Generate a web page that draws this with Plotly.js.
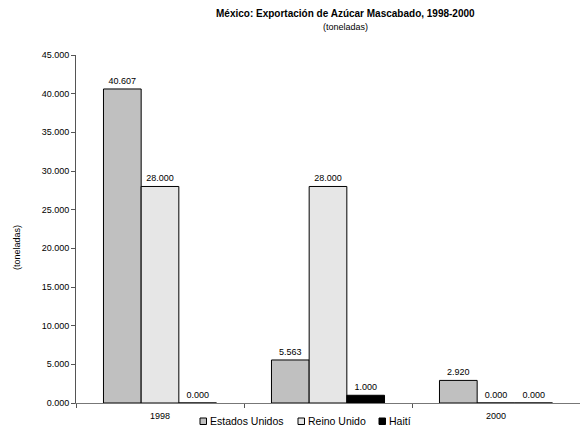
<!DOCTYPE html>
<html>
<head>
<meta charset="utf-8">
<script src="https://cdn.plot.ly/plotly-3.0.1.min.js"></script>
<style>html,body{margin:0;padding:0;background:#fff;}#chart{width:580px;height:431px;}</style>
</head>
<body>
<div id="chart"></div>
<script>
var categories = ["1998", "1999", "2000"];
var tickLabels = ["1998", "", "2000"];
var seriesNames = ["Estados Unidos", "Reino Unido", "Haití"];
var estadosUnidos = [40.607, 5.563, 2.920];
var reinoUnido = [28.000, 28.000, 0.000];
var haiti = [0.000, 1.000, 0.000];
var yTicks = [0, 5, 10, 15, 20, 25, 30, 35, 40, 45];

var seriesValues = [estadosUnidos, reinoUnido, haiti];
var colors = ["#C0C0C0", "#E6E6E6", "#000000"];

var W = 580, H = 431, L = 76, R = 0, T = 55, B = 28;
var pw = W - L - R, ph = H - T - B;
function px(x) { return (x - L) / pw; }
function py(y) { return (H - B - y) / ph; }

var font = "Liberation Sans, Arial, sans-serif";
var traces = seriesValues.map(function (vals, i) {
  return {
    type: "bar",
    name: seriesNames[i],
    x: categories,
    y: vals,
    marker: {color: colors[i], line: {color: "#000", width: 1}},
    text: vals.map(function (v) { return v.toFixed(3); }),
    textposition: "outside",
    cliponaxis: false,
    textfont: {family: font, size: 9, color: "#000"},
    hoverinfo: "skip"
  };
});

// legend drawn below the axis (Excel style)
var legendX = [200, 298, 379];
var shapes = [], annotations = [];
seriesNames.forEach(function (n, i) {
  shapes.push({type: "rect", xref: "paper", yref: "paper",
    x0: px(legendX[i]), x1: px(legendX[i] + 6.5), y0: py(424.5), y1: py(418),
    fillcolor: colors[i], line: {color: "#000", width: 1}});
  annotations.push({text: n, xref: "paper", yref: "paper",
    x: px(legendX[i] + 7.5), y: py(421), xanchor: "left", yanchor: "middle", showarrow: false,
    font: {family: font, size: 10.5, color: "#000"}});
});

annotations.push(
  {text: "<b>México: Exportación de Azúcar Mascabado, 1998-2000</b>", xref: "paper", yref: "paper",
   x: px(345), y: py(13), xanchor: "center", yanchor: "middle", showarrow: false,
   font: {family: font, size: 10, color: "#000"}},
  {text: "(toneladas)", xref: "paper", yref: "paper",
   x: px(345), y: py(27), xanchor: "center", yanchor: "middle", showarrow: false,
   font: {family: font, size: 9, color: "#000"}},
  {text: "(toneladas)", xref: "paper", yref: "paper", textangle: -90,
   x: px(17), y: py(248), xanchor: "center", yanchor: "middle", showarrow: false,
   font: {family: font, size: 9, color: "#000"}}
);

var layout = {
  width: W, height: H,
  margin: {l: L, r: R, t: T, b: B, pad: 0},
  paper_bgcolor: "#fff", plot_bgcolor: "#fff",
  barmode: "group", bargap: 0.327, bargroupgap: 0,
  showlegend: false,
  xaxis: {
    type: "category", automargin: false,
    tickvals: categories, ticktext: tickLabels,
    tickson: "boundaries", ticks: "outside", ticklen: 4, tickcolor: "#555",
    ticklabelstandoff: 4,
    showline: true, linecolor: "#777", linewidth: 1,
    showgrid: false, zeroline: false,
    tickfont: {family: font, size: 9, color: "#000"}
  },
  yaxis: {
    range: [0, 45], tickvals: yTicks, tickformat: ".3f", automargin: false,
    ticks: "outside", ticklen: 4, tickcolor: "#555",
    showline: true, linecolor: "#555", linewidth: 1,
    showgrid: false, zeroline: false,
    tickfont: {family: font, size: 9, color: "#000"}
  },
  shapes: shapes,
  annotations: annotations
};

Plotly.newPlot("chart", traces, layout, {displayModeBar: false, staticPlot: true});
</script>
</body>
</html>
